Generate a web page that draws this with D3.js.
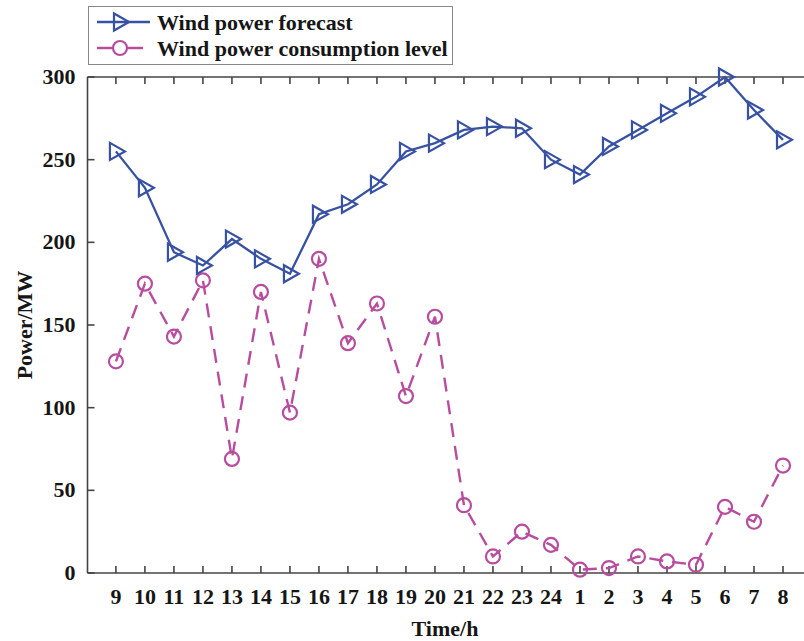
<!DOCTYPE html>
<html lang="en">
<head>
<meta charset="UTF-8">
<title>Wind power</title>
<style>
  body { margin: 0; background: #fff; overflow: hidden; }
  svg { display: block; }
  text { font-family: "Liberation Serif", "Times New Roman", serif; font-weight: 700; fill: #161616; }
</style>
</head>
<body>
<svg id="chart" width="804" height="641"></svg>
<script src="https://cdn.jsdelivr.net/npm/d3@7"></script>
<script>
const hours = ['9','10','11','12','13','14','15','16','17','18','19','20','21','22','23','24','1','2','3','4','5','6','7','8'];
const forecast = [255, 233, 194, 186, 202, 190, 181, 217, 223, 235, 255, 260, 268, 270, 269, 250, 241, 258, 268, 278, 288, 300, 280, 262];
const consumption = [128, 175, 143, 177, 69, 170, 97, 190, 139, 163, 107, 155, 41, 10, 25, 17, 2, 3, 10, 7, 5, 40, 31, 65];
const yTicks = [0, 50, 100, 150, 200, 250, 300];

const blue = '#3852a3';
const pink = '#b84c9e';
const axisColor = '#444';

const svg = d3.select('#chart');
const plotLeft = 87.5, plotTop = 77, plotBottom = 573, plotRight = 812;

// x index scale; right edge runs past the window like the original
const x = d3.scaleLinear().domain([-0.98, 24]).range([plotLeft, plotRight]);
const y = d3.scaleLinear().domain([0, 300]).range([plotBottom, plotTop]);

const g = svg.append('g');

// frame lines
g.append('line').attr('x1', plotLeft).attr('x2', plotRight).attr('y1', plotBottom).attr('y2', plotBottom)
  .attr('stroke', axisColor).attr('stroke-width', 1.6);
g.append('line').attr('x1', plotLeft).attr('x2', plotRight).attr('y1', plotTop).attr('y2', plotTop)
  .attr('stroke', axisColor).attr('stroke-width', 1.6);
g.append('line').attr('x1', plotLeft).attr('x2', plotLeft).attr('y1', plotTop).attr('y2', plotBottom)
  .attr('stroke', axisColor).attr('stroke-width', 1.6);

// x ticks (inward, top and bottom)
hours.forEach((h, i) => {
  const px = x(i);
  g.append('line').attr('x1', px).attr('x2', px).attr('y1', plotBottom).attr('y2', plotBottom - 7)
    .attr('stroke', axisColor).attr('stroke-width', 1.6);
  g.append('line').attr('x1', px).attr('x2', px).attr('y1', plotTop).attr('y2', plotTop + 7)
    .attr('stroke', axisColor).attr('stroke-width', 1.6);
  g.append('text').attr('x', px).attr('y', plotBottom + 31).attr('text-anchor', 'middle')
    .attr('font-size', 22).text(h);
});

// y ticks
yTicks.forEach(t => {
  const py = y(t);
  g.append('line').attr('x1', plotLeft).attr('x2', plotLeft + 7).attr('y1', py).attr('y2', py)
    .attr('stroke', axisColor).attr('stroke-width', 1.6);
  g.append('text').attr('x', plotLeft - 12).attr('y', py + 7).attr('text-anchor', 'end')
    .attr('font-size', 22).text(t);
});

// axis titles
g.append('text').attr('x', 445).attr('y', 636).attr('text-anchor', 'middle')
  .attr('font-size', 22).text('Time/h');
g.append('text').attr('transform', `translate(32,${(plotTop + plotBottom) / 2}) rotate(-90)`)
  .attr('text-anchor', 'middle').attr('font-size', 22).text('Power/MW');

const triPath = 'M-6,-8.5L-6,8.5L9,0Z';

// consumption (dashed, circles)
const line = d3.line().x((d, i) => x(i)).y(d => y(d));
g.append('path').datum(consumption).attr('d', line).attr('fill', 'none')
  .attr('stroke', pink).attr('stroke-width', 2.4).attr('stroke-dasharray', '14,9');
g.selectAll('circle.c').data(consumption).enter().append('circle')
  .attr('cx', (d, i) => x(i)).attr('cy', d => y(d)).attr('r', 7)
  .attr('fill', 'none').attr('stroke', pink).attr('stroke-width', 2.2);

// forecast (solid, triangles)
g.append('path').datum(forecast).attr('d', line).attr('fill', 'none')
  .attr('stroke', blue).attr('stroke-width', 2.3);
g.selectAll('path.t').data(forecast).enter().append('path')
  .attr('class', 't')
  .attr('transform', (d, i) => `translate(${x(i)},${y(d)})`)
  .attr('d', triPath).attr('fill', 'none').attr('stroke', blue).attr('stroke-width', 2.2);

// legend
const lg = svg.append('g');
lg.append('rect').attr('x', 88.5).attr('y', 6.5).attr('width', 364).attr('height', 58)
  .attr('fill', '#fff').attr('stroke', '#888').attr('stroke-width', 1);
lg.append('line').attr('x1', 97).attr('x2', 150).attr('y1', 22).attr('y2', 22)
  .attr('stroke', blue).attr('stroke-width', 2.3);
lg.append('path').attr('transform', 'translate(120,22)').attr('d', triPath)
  .attr('fill', 'none').attr('stroke', blue).attr('stroke-width', 2.2);
lg.append('text').attr('x', 157).attr('y', 30).attr('font-size', 22)
  .text('Wind power forecast');
lg.append('line').attr('x1', 97).attr('x2', 143).attr('y1', 48).attr('y2', 48)
  .attr('stroke', pink).attr('stroke-width', 2.4);
lg.append('circle').attr('cx', 120).attr('cy', 48).attr('r', 7)
  .attr('fill', '#fff').attr('stroke', pink).attr('stroke-width', 2.2);
lg.append('text').attr('x', 157).attr('y', 56).attr('font-size', 22)
  .text('Wind power consumption level');
</script>
</body>
</html>
